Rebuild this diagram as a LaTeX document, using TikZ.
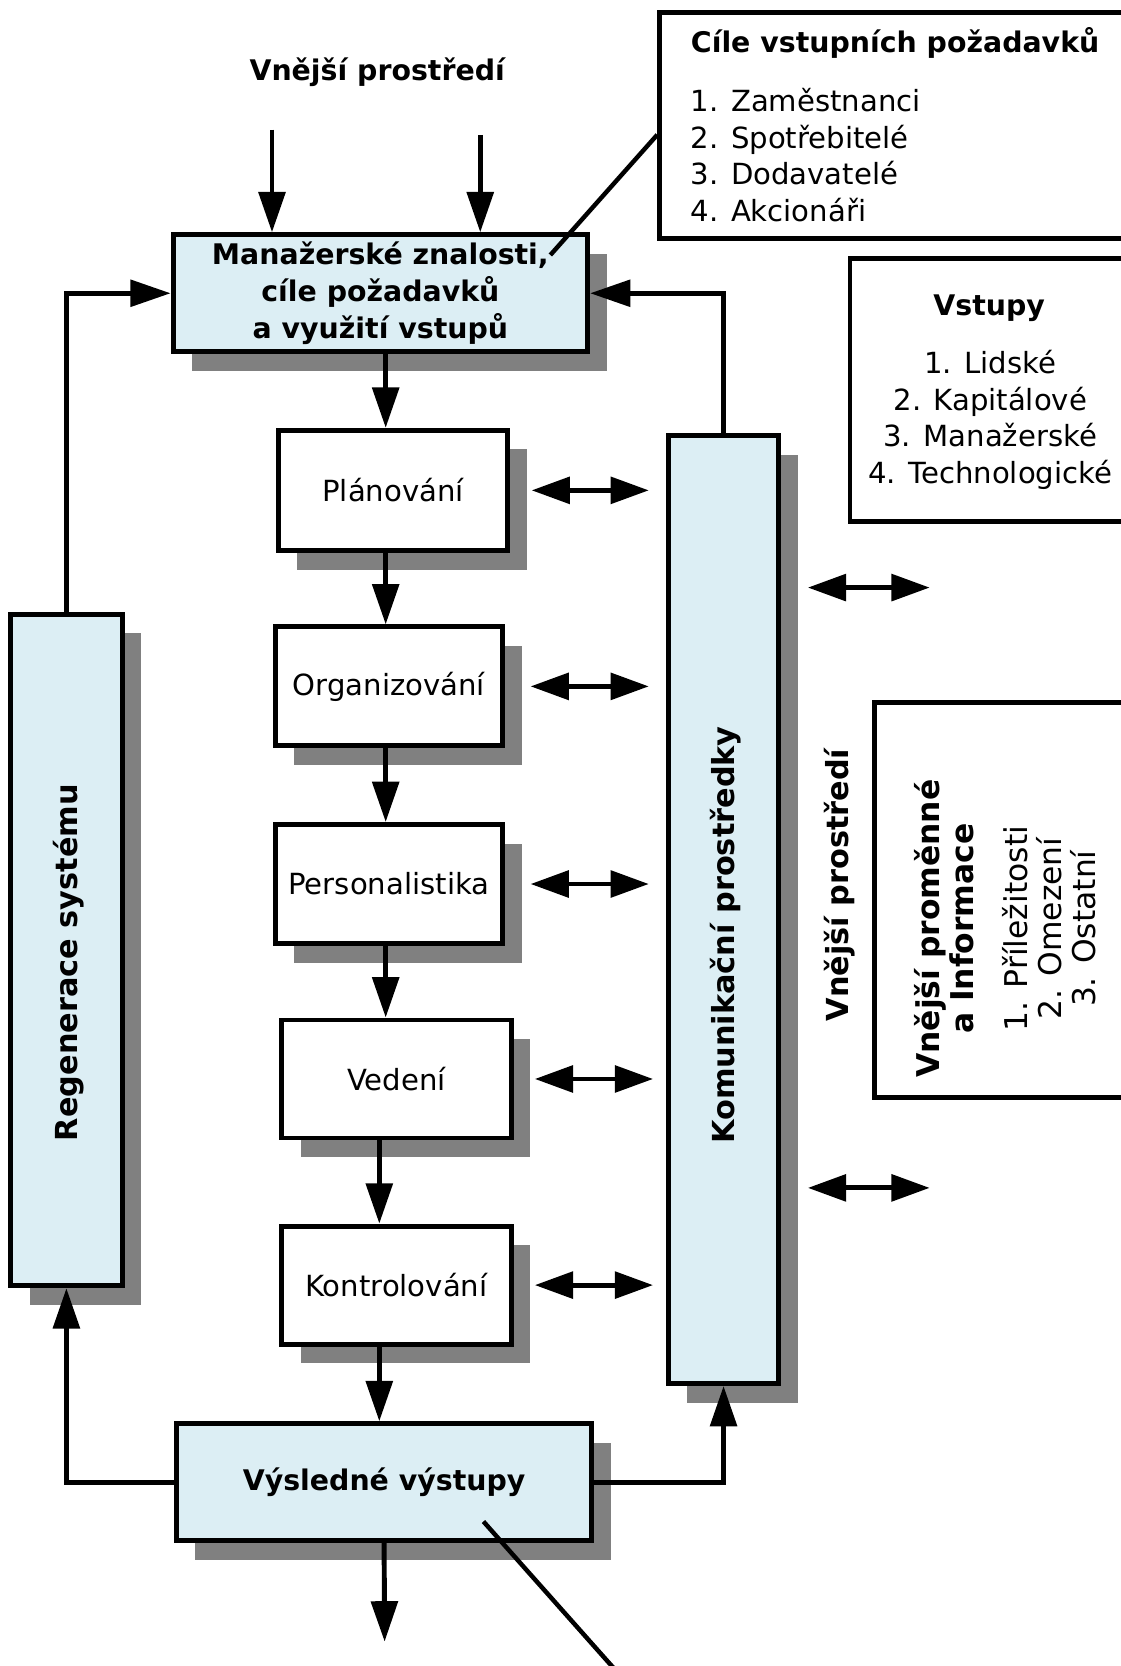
\documentclass[tikz,border=0pt]{standalone}
\usepackage{fontspec}
\setmainfont{DejaVu Sans}
\usetikzlibrary{arrows.meta,shadows}
\definecolor{panel}{HTML}{DCEEF4}
\definecolor{shade}{HTML}{808080}
\tikzset{
  base/.style={font=\fontsize{19.5}{24.5}\selectfont, inner sep=0pt},
  title/.style={base, font=\fontsize{19}{24.5}\selectfont\bfseries},
  sidetitle/.style={base, font=\fontsize{20.3}{24.5}\selectfont\bfseries, rotate=90},
  box/.style={base, draw, line width=3.3pt, fill=white,
    drop shadow={shadow xshift=0.45cm, shadow yshift=-0.45cm, fill=shade, opacity=1}},
  bluebox/.style={box, fill=panel},
  plainbox/.style={base, draw, line width=3.3pt, fill=white},
  arr/.style={line width=3.3pt, -{Triangle[length=0.95cm,width=0.62cm]}},
  twoway/.style={line width=3.3pt, {Triangle[length=0.9cm,width=0.62cm]}-{Triangle[length=0.9cm,width=0.62cm]}},
  callout/.style={line width=3pt},
}
\begin{document}
\begin{tikzpicture}[x=0.025cm,y=-0.025cm]
    \useasboundingbox (0,0) rectangle (1055,1568);

    % Info boxes on the right
    \node[plainbox, minimum width=11.225cm, minimum height=5.3cm] (cile) at (845.5,118) {};
    \node[title, anchor=west] (ciletitle) at (650,40) {Cíle vstupních požadavků};
    \node[base, anchor=west, align=left] (cilelist) at (650,146)
      {1. Zaměstnanci\\2. Spotřebitelé\\3. Dodavatelé\\4. Akcionáři};

    \node[plainbox, minimum width=6.75cm, minimum height=6.2cm] (vstupy) at (935,367) {};
    \node[title] (vstupytitle) at (931,290) {Vstupy};
    \node[base, align=center] (vstupylist) at (932,395)
      {1. Lidské\\2. Kapitálové\\3. Manažerské\\4. Technologické};

    \node[plainbox, minimum width=6.175cm, minimum height=9.3cm] (promenne) at (946.5,847) {};
    \node[base, font=\fontsize{21}{22.7}\selectfont, rotate=90, align=center] (promennetext) at (946,874)
      {\textbf{Vnější proměnné}\\\textbf{a Informace}\\[13.5pt]1. Příležitosti\\2. Omezení\\3. Ostatní};

    % Labels
    \node[title] (envtop) at (355,68) {Vnější prostředí};
    \node[sidetitle] (envside) at (790,833) {Vnější prostředí};

    % Main boxes
    \node[bluebox, title, minimum width=9.75cm, minimum height=2.75cm, align=center] (mgmt) at (358,276)
      {Manažerské znalosti,\\cíle požadavků\\a využití vstupů};
    \node[box, minimum width=5.4cm, minimum height=2.825cm] (plan) at (370,461.5) {Plánování};
    \node[box, minimum width=5.35cm, minimum height=2.8cm] (org) at (366,646) {Organizování};
    \node[box, minimum width=5.35cm, minimum height=2.8cm] (pers) at (366,832) {Personalistika};
    \node[box, minimum width=5.4cm, minimum height=2.775cm] (ved) at (373,1015.5) {Vedení};
    \node[box, minimum width=5.4cm, minimum height=2.775cm] (kont) at (373,1209.5) {Kontrolování};
    \node[bluebox, title, minimum width=9.775cm, minimum height=2.75cm] (vysl) at (361.5,1395) {Výsledné výstupy};

    % Side columns
    \node[bluebox, minimum width=2.625cm, minimum height=15.8cm] (regen) at (62.5,894) {};
    \node[sidetitle] (regenlbl) at (65,906) {Regenerace systému};
    \node[bluebox, minimum width=2.6cm, minimum height=22.3cm] (komun) at (681,856) {};
    \node[sidetitle] (komunlbl) at (683,880) {Komunikační prostředky};

    % Inputs from the environment
    \coordinate (in1) at (256,122);
    \coordinate (in2) at (452,127);
    \draw[arr] (in1) -- (in1 |- mgmt.north);
    \draw[arr] (in2) -- (in2 |- mgmt.north);

    % Main chain
    \coordinate (colA) at (363,0);
    \coordinate (colB) at (357,0);
    \coordinate (out) at (362,1545);
    \draw[arr] (mgmt.south -| colA) -- (plan.north -| colA);
    \draw[arr] (plan.south -| colA) -- (org.north -| colA);
    \draw[arr] (org.south -| colA) -- (pers.north -| colA);
    \draw[arr] (pers.south -| colA) -- (ved.north -| colA);
    \draw[arr] (ved.south -| colB) -- (kont.north -| colB);
    \draw[arr] (kont.south -| colB) -- (vysl.north -| colB);
    \draw[arr] (vysl.south) -- (out);

    % Feedback loops
    \draw[arr] (vysl.west) -| (regen.south);
    \draw[arr] (regen.north) |- (mgmt.west);
    \draw[arr] (komun.north) |- (mgmt.east);
    \draw[arr] (vysl.east) -| (komun.south);

    % Exchange with communication
    \draw[twoway, shorten <=0.5cm, shorten >=0.4cm] (plan.east) -- (plan.east -| komun.west);
    \draw[twoway, shorten <=0.6cm, shorten >=0.4cm] (org.east) -- (org.east -| komun.west);
    \draw[twoway, shorten <=0.6cm, shorten >=0.4cm] (pers.east) -- (pers.east -| komun.west);
    \draw[twoway, shorten <=0.5cm, shorten >=0.3cm] (ved.east) -- (ved.east -| komun.west);
    \draw[twoway, shorten <=0.5cm, shorten >=0.3cm] (kont.east) -- (kont.east -| komun.west);

    % Exchange with environment
    \coordinate (ext1) at (875,553);
    \coordinate (ext2) at (875,1118);
    \draw[twoway, shorten <=0.625cm] (komun.east |- ext1) -- (ext1);
    \draw[twoway, shorten <=0.625cm] (komun.east |- ext2) -- (ext2);

    % Callouts
    \coordinate (c1) at (518,240);
    \draw[callout] (c1) -- ([yshift=-0.22cm]cile.west);
    \coordinate (c2) at (455,1432);
    \coordinate (c3) at (582,1575);
    \draw[callout] (c2) -- (c3);
\end{tikzpicture}
\end{document}
